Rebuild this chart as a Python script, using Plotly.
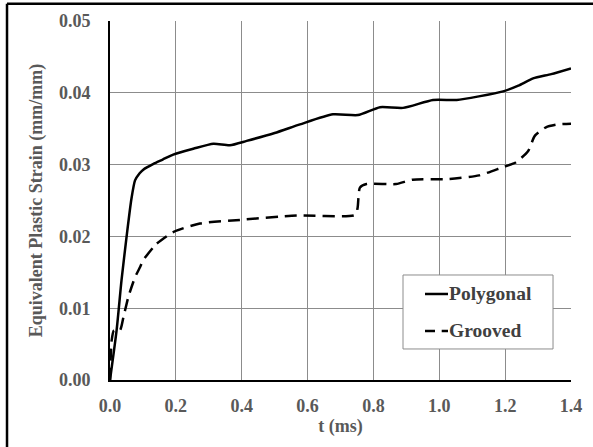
import plotly.graph_objects as go

# Time (ms) and equivalent plastic strain (mm/mm) for the two specimens
t_polygonal = [0.0, 0.02, 0.035, 0.051, 0.065, 0.076, 0.09, 0.101, 0.132, 0.16, 0.192,
               0.253, 0.314, 0.364, 0.415, 0.5, 0.577, 0.677, 0.753, 0.82, 0.89,
               0.981, 1.053, 1.12, 1.194, 1.24, 1.285, 1.34, 1.4]
strain_polygonal = [0.0, 0.0069, 0.0139, 0.0202, 0.0252, 0.0278, 0.0288, 0.0293, 0.0301, 0.0307, 0.0314,
                    0.0322, 0.0329, 0.0327, 0.0333, 0.0344, 0.0356, 0.0370, 0.0369, 0.0380, 0.0379,
                    0.0390, 0.0390, 0.0395, 0.0402, 0.0410, 0.0420, 0.0426, 0.0434]

t_grooved = [0.0, 0.005, 0.012, 0.03, 0.041, 0.056, 0.076, 0.091, 0.101, 0.132, 0.142,
             0.192, 0.273, 0.395, 0.567, 0.745, 0.752, 0.759, 0.779, 0.869, 0.919,
             1.03, 1.121, 1.19, 1.232, 1.27, 1.29, 1.324, 1.36, 1.4]
strain_grooved = [0.0, 0.0055, 0.0069, 0.0069, 0.0088, 0.0116, 0.0143, 0.0157, 0.0167, 0.0185, 0.0190,
                  0.0206, 0.0218, 0.0223, 0.0229, 0.0230, 0.0240, 0.0268, 0.0273, 0.0273, 0.0279,
                  0.0280, 0.0285, 0.0296, 0.0303, 0.0319, 0.0340, 0.0352, 0.0356, 0.0357]

series_names = ["Polygonal", "Grooved"]
x_ticks = [0.0, 0.2, 0.4, 0.6, 0.8, 1.0, 1.2, 1.4]
y_ticks = [0.00, 0.01, 0.02, 0.03, 0.04, 0.05]

FONT = "Liberation Serif, Times New Roman, serif"
GREY_TEXT = "#595959"
LEGEND_TEXT = "#404040"
GRID = "#8c8c8c"

fig = go.Figure()
fig.add_trace(go.Scatter(
    x=t_polygonal, y=strain_polygonal, mode="lines", name=series_names[0],
    line=dict(color="black", width=2.5, shape="spline", smoothing=0.6),
))
fig.add_trace(go.Scatter(
    x=t_grooved, y=strain_grooved, mode="lines", name=series_names[1],
    line=dict(color="black", width=2.5, dash="12px,7px", shape="spline", smoothing=0.6),
))

axis_font = dict(family=FONT, size=18, color=GREY_TEXT, weight="bold")

# Legend drawn as a boxed key inside the lower-right of the plot
lx0, lx1, ly0, ly1 = 0.6356, 0.9610, 0.0864, 0.2925
key_x0, key_x1, text_x = 0.6833, 0.7332, 0.7354
row_y = [0.2396, 0.1365]

shapes = [
    # frame around the figure
    dict(type="line", xref="paper", yref="paper", x0=-0.2234, x1=1.2, y0=1.048, y1=1.048,
         line=dict(color="black", width=2.5)),
    dict(type="line", xref="paper", yref="paper", x0=-0.2234, x1=-0.2234, y0=1.048, y1=-0.3,
         line=dict(color="black", width=2.5)),
    # legend box
    dict(type="rect", xref="paper", yref="paper", x0=lx0, x1=lx1, y0=ly0, y1=ly1,
         fillcolor="white", line=dict(color=GRID, width=1), layer="above"),
    # solid key
    dict(type="line", xref="paper", yref="paper", x0=key_x0, x1=key_x1, y0=row_y[0], y1=row_y[0],
         line=dict(color="black", width=2.5), layer="above"),
    # dashed key
    dict(type="line", xref="paper", yref="paper", x0=key_x0, x1=0.7050, y0=row_y[1], y1=row_y[1],
         line=dict(color="black", width=2.5), layer="above"),
    dict(type="line", xref="paper", yref="paper", x0=0.7195, x1=key_x1, y0=row_y[1], y1=row_y[1],
         line=dict(color="black", width=2.5), layer="above"),
]

annotations = [
    dict(xref="paper", yref="paper", x=text_x, y=yy, text=name, showarrow=False,
         xanchor="left", yanchor="middle", xshift=-2,
         font=dict(family=FONT, size=19.5, color=LEGEND_TEXT, weight="bold"))
    for name, yy in zip(series_names, row_y)
]

fig.update_layout(
    width=593, height=447,
    margin=dict(l=110, r=22, t=21, b=67, autoexpand=False),
    paper_bgcolor="white", plot_bgcolor="white",
    font=dict(family=FONT, size=18, color=GREY_TEXT, weight="bold"),
    xaxis=dict(
        range=[0, 1.4], tickvals=x_ticks, ticktext=[f"{v:.1f}" for v in x_ticks],
        showgrid=True, gridcolor=GRID, gridwidth=1,
        showline=True, linecolor="black", linewidth=2,
        zeroline=False, ticks="", tickfont=axis_font, ticklabelstandoff=8,
        title=dict(text="t (ms)", font=axis_font, standoff=4),
        fixedrange=True,
    ),
    yaxis=dict(
        range=[0, 0.05], tickvals=y_ticks, ticktext=[f"{v:.2f}" for v in y_ticks],
        showgrid=True, gridcolor=GRID, gridwidth=1,
        showline=True, linecolor="black", linewidth=2,
        zeroline=False, ticks="", tickfont=axis_font, ticklabelstandoff=14,
        title=dict(text="Equivalent Plastic Strain (mm/mm)", font=axis_font, standoff=12),
        fixedrange=True,
    ),
    showlegend=False,
    shapes=shapes,
    annotations=annotations,
)

fig.write_html("out.html")
